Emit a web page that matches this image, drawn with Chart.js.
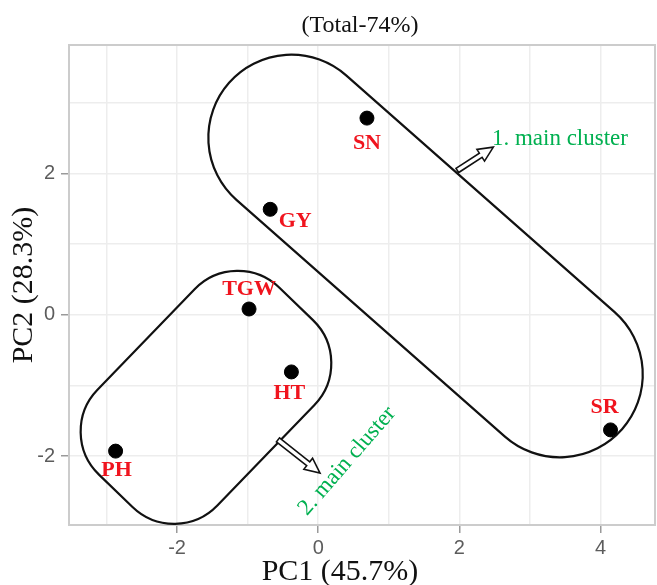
<!DOCTYPE html>
<html>
<head>
<meta charset="utf-8">
<script src="https://cdn.jsdelivr.net/npm/chart.js@4.4.1/dist/chart.umd.min.js"></script>
<style>
    html, body { margin: 0; padding: 0; background: #ffffff; }
    #wrap { width: 657px; height: 585px; }
</style>
</head>
<body>
<div id="wrap"><canvas id="graficoPCA" width="657" height="585"></canvas></div>
<script>
// datos
const traits = ['SN', 'GY', 'TGW', 'HT', 'PH', 'SR'];
const pc1 = [0.69, -0.68, -0.98, -0.38, -2.87, 4.14];
const pc2 = [2.78, 1.49, 0.08, -0.81, -1.93, -1.63];
const xTickLabels = [-2, 0, 2, 4];
const yTickLabels = [-2, 0, 2];

// posicion de las etiquetas respecto al punto (px)
const labelOffset = {
    SN: [0, 25], GY: [25, 12], TGW: [0, -20],
    HT: [-2, 21], PH: [1, 19], SR: [-6, -23]
};

// contornos de los grupos (unidades de datos)
const clusters = [
    { cx: 1.52, cy: 0.83, angle: 41.4, halfLen: 3.71, halfWid: 1.175, corner: 1.175 },
    { cx: -1.59, cy: -1.17, angle: -46, halfLen: 1.84, halfWid: 1.18, corner: 0.85 }
];
const arrows = [
    { from: [1.97, 2.04], to: [2.48, 2.37] },
    { from: [-0.57, -1.77], to: [0.025, -2.24] }
];
const notes = [
    { text: '1. main cluster', x: 2.46, y: 2.40, angle: 0, align: 'left', base: 'alphabetic' },
    { text: '2. main cluster', x: 0.41, y: -2.07, angle: -49, align: 'center', base: 'middle' }
];

const verde = '#00b050';
const rojo = '#f0141e';

function roundedRect(ctx, x, y, w, h, r) {
    ctx.beginPath();
    ctx.moveTo(x + r, y);
    ctx.arcTo(x + w, y, x + w, y + h, r);
    ctx.arcTo(x + w, y + h, x, y + h, r);
    ctx.arcTo(x, y + h, x, y, r);
    ctx.arcTo(x, y, x + w, y, r);
    ctx.closePath();
}

function hollowArrow(ctx, x0, y0, x1, y1) {
    const len = Math.hypot(x1 - x0, y1 - y0);
    const sw = 2.5, hw = 7, hl = 15;
    ctx.save();
    ctx.translate(x0, y0);
    ctx.rotate(Math.atan2(y1 - y0, x1 - x0));
    ctx.beginPath();
    ctx.moveTo(0, -sw);
    ctx.lineTo(len - hl, -sw);
    ctx.lineTo(len - hl, -hw);
    ctx.lineTo(len, 0);
    ctx.lineTo(len - hl, hw);
    ctx.lineTo(len - hl, sw);
    ctx.lineTo(0, sw);
    ctx.closePath();
    ctx.fillStyle = '#ffffff';
    ctx.fill();
    ctx.lineWidth = 1.6;
    ctx.strokeStyle = '#111111';
    ctx.stroke();
    ctx.restore();
}

const anotaciones = {
    id: 'anotaciones',
    beforeDatasetsDraw(chart) {
        const ctx = chart.ctx;
        const xs = chart.scales.x, ys = chart.scales.y;
        const a = chart.chartArea;
        const u = Math.abs(xs.getPixelForValue(1) - xs.getPixelForValue(0));

        // borde del panel
        ctx.save();
        ctx.strokeStyle = '#cccccc';
        ctx.lineWidth = 2;
        ctx.strokeRect(a.left, a.top, a.right - a.left, a.bottom - a.top);
        ctx.restore();

        ctx.save();
        ctx.strokeStyle = '#111111';
        ctx.lineWidth = 2.2;
        clusters.forEach(c => {
            ctx.save();
            ctx.translate(xs.getPixelForValue(c.cx), ys.getPixelForValue(c.cy));
            ctx.rotate(c.angle * Math.PI / 180);
            const L = c.halfLen * u, W = c.halfWid * u, R = c.corner * u;
            roundedRect(ctx, -L, -W, 2 * L, 2 * W, R);
            ctx.stroke();
            ctx.restore();
        });
        ctx.restore();

        arrows.forEach(ar => {
            hollowArrow(ctx,
                xs.getPixelForValue(ar.from[0]), ys.getPixelForValue(ar.from[1]),
                xs.getPixelForValue(ar.to[0]), ys.getPixelForValue(ar.to[1]));
        });

        ctx.save();
        ctx.fillStyle = verde;
        ctx.font = '23px "Liberation Serif"';
        notes.forEach(n => {
            ctx.save();
            ctx.translate(xs.getPixelForValue(n.x), ys.getPixelForValue(n.y));
            ctx.rotate(n.angle * Math.PI / 180);
            ctx.textAlign = n.align;
            ctx.textBaseline = n.base;
            ctx.fillText(n.text, 0, 0);
            ctx.restore();
        });
        ctx.restore();
    },
    afterDatasetsDraw(chart) {
        const ctx = chart.ctx;
        const meta = chart.getDatasetMeta(0);
        ctx.save();
        ctx.fillStyle = rojo;
        ctx.font = 'bold 22px "Liberation Serif"';
        ctx.textAlign = 'center';
        ctx.textBaseline = 'middle';
        meta.data.forEach((pt, i) => {
            const off = labelOffset[traits[i]] || [0, 20];
            ctx.fillText(traits[i], pt.x + off[0], pt.y + off[1]);
        });
        ctx.restore();
    },
    afterDraw(chart) {
        const ctx = chart.ctx;
        ctx.save();
        ctx.fillStyle = '#111111';
        ctx.textAlign = 'center';
        ctx.textBaseline = 'alphabetic';
        ctx.font = '24px "Liberation Serif"';
        ctx.fillText('(Total-74%)', 360, 32);
        ctx.font = '30px "Liberation Serif"';
        ctx.fillText('PC1 (45.7%)', 340, 580);
        ctx.restore();
    }
};

const gridColor = '#ededed';
const tickColor = ctx => (ctx.tick && xTickLabels.concat(yTickLabels).includes(ctx.tick.value)) ? '#9a9a9a' : 'rgba(0,0,0,0)';

new Chart(document.getElementById('graficoPCA').getContext('2d'), {
    type: 'scatter',
    data: {
        datasets: [{
            label: 'Variables',
            data: pc1.map((v, i) => ({ x: v, y: pc2[i] })),
            backgroundColor: '#000000',
            borderColor: '#000000',
            pointRadius: 7,
            pointHoverRadius: 7
        }]
    },
    options: {
        responsive: false,
        animation: false,
        layout: { autoPadding: false, padding: { top: 45, right: 2, left: 0, bottom: 0 } },
        plugins: {
            legend: { display: false },
            tooltip: { enabled: false },
            title: { display: false }
        },
        scales: {
            x: {
                type: 'linear',
                min: -3.53,
                max: 4.77,
                afterFit: s => { s.height = 60; s.paddingLeft = 0; s.paddingRight = 0; },
                border: { display: false },
                grid: { color: gridColor, lineWidth: 1.5, tickLength: 8, tickColor: tickColor, tickWidth: 1.5 },
                ticks: {
                    stepSize: 1,
                    includeBounds: false,
                    padding: 3,
                    color: '#5c5c5c',
                    font: { family: 'Liberation Sans', size: 20 },
                    callback: v => xTickLabels.includes(v) ? String(v) : ''
                }
            },
            y: {
                type: 'linear',
                min: -2.975,
                max: 3.814,
                afterFit: s => { s.width = 69; s.paddingTop = 0; s.paddingBottom = 0; },
                border: { display: false },
                grid: { color: gridColor, lineWidth: 1.5, tickLength: 8, tickColor: tickColor, tickWidth: 1.5 },
                ticks: {
                    stepSize: 1,
                    includeBounds: false,
                    padding: 6,
                    color: '#5c5c5c',
                    font: { family: 'Liberation Sans', size: 20 },
                    callback: v => yTickLabels.includes(v) ? String(v) : ''
                },
                title: {
                    display: true,
                    text: 'PC2 (28.3%)',
                    color: '#111111',
                    font: { family: 'Liberation Serif', size: 30, lineHeight: 1 },
                    padding: { top: 9, bottom: 0 }
                }
            }
        }
    },
    plugins: [anotaciones]
});
</script>
</body>
</html>
